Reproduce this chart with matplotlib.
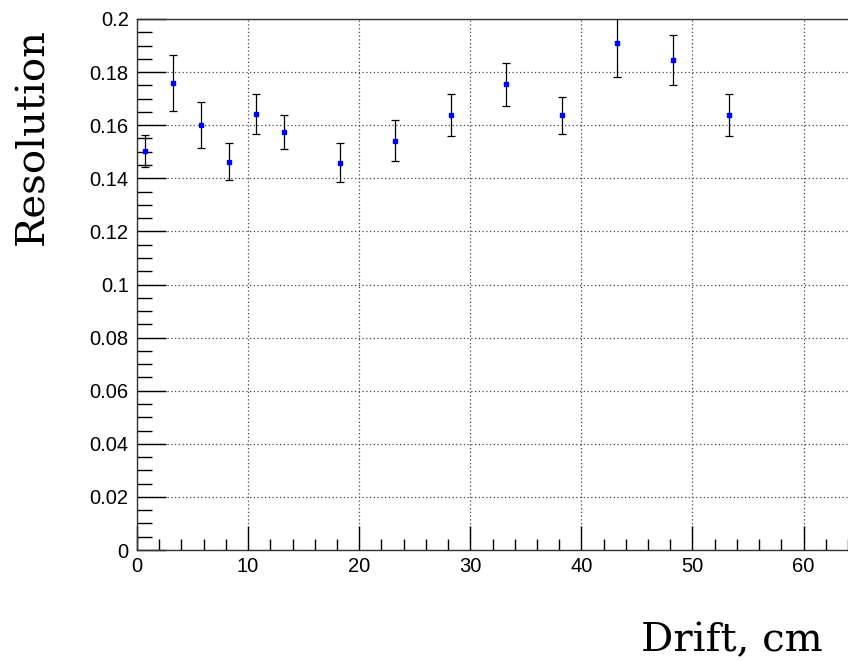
import numpy as np
import matplotlib.pyplot as plt
from matplotlib.ticker import MultipleLocator

drift = [0.75, 3.25, 5.75, 8.25, 10.75, 13.25, 18.25, 23.25, 28.25, 33.25, 38.25, 43.25, 48.25, 53.25]
resolution = [0.1504, 0.1760, 0.1601, 0.1463, 0.1642, 0.1576, 0.1459, 0.1542, 0.1638, 0.1754, 0.1638, 0.1910, 0.1846, 0.1638]
res_err = [0.0060, 0.0105, 0.0088, 0.0069, 0.0076, 0.0064, 0.0073, 0.0077, 0.0078, 0.0082, 0.0070, 0.0128, 0.0095, 0.0080]

#%% Plotting
fig = plt.figure(figsize=(8.48, 6.61), dpi=100)
ax = fig.add_axes([137/848, 1 - 550/661, 1 - 137/848, (550 - 19)/661])

ax.errorbar(drift, resolution, yerr=res_err, fmt='s', color='blue', markersize=3,
            ecolor='black', elinewidth=0.9, capsize=3, capthick=0.9, zorder=3)

ax.set_xlim(0, 64)
ax.set_ylim(0, 0.2)
ax.xaxis.set_major_locator(MultipleLocator(10))
ax.xaxis.set_minor_locator(MultipleLocator(2))
ax.yaxis.set_major_locator(MultipleLocator(0.02))
ax.yaxis.set_minor_locator(MultipleLocator(0.005))
ax.yaxis.set_major_formatter(plt.FuncFormatter(lambda v, p: ('%g' % round(v, 3))))

ax.tick_params(which='both', direction='in', labelsize=14.5, width=1, color='black',
               top=False, right=False)
ax.tick_params(axis='x', which='major', length=17, pad=5)
ax.tick_params(axis='x', which='minor', length=8)
ax.tick_params(axis='y', which='major', length=21, pad=6)
ax.tick_params(axis='y', which='minor', length=11)
for lab in ax.get_xticklabels() + ax.get_yticklabels():
    lab.set_family('Liberation Sans')

ax.grid(True, which='major', linestyle=(0, (1, 2)), color='#444444', linewidth=0.9)
ax.spines['right'].set_visible(False)
for s in ['left', 'bottom', 'top']:
    ax.spines[s].set_linewidth(1.0)
    ax.spines[s].set_color('#333333')

fig.text(823/848, 1 - 651/661, 'Drift, cm', ha='right', va='baseline',
         fontsize=29, family='DejaVu Serif')
fig.text(14/848, 1 - 28/661, 'Resolution', ha='right', va='top', rotation=90,
         fontsize=29, family='DejaVu Serif', rotation_mode='anchor')

plt.savefig('out.png', dpi=100)
